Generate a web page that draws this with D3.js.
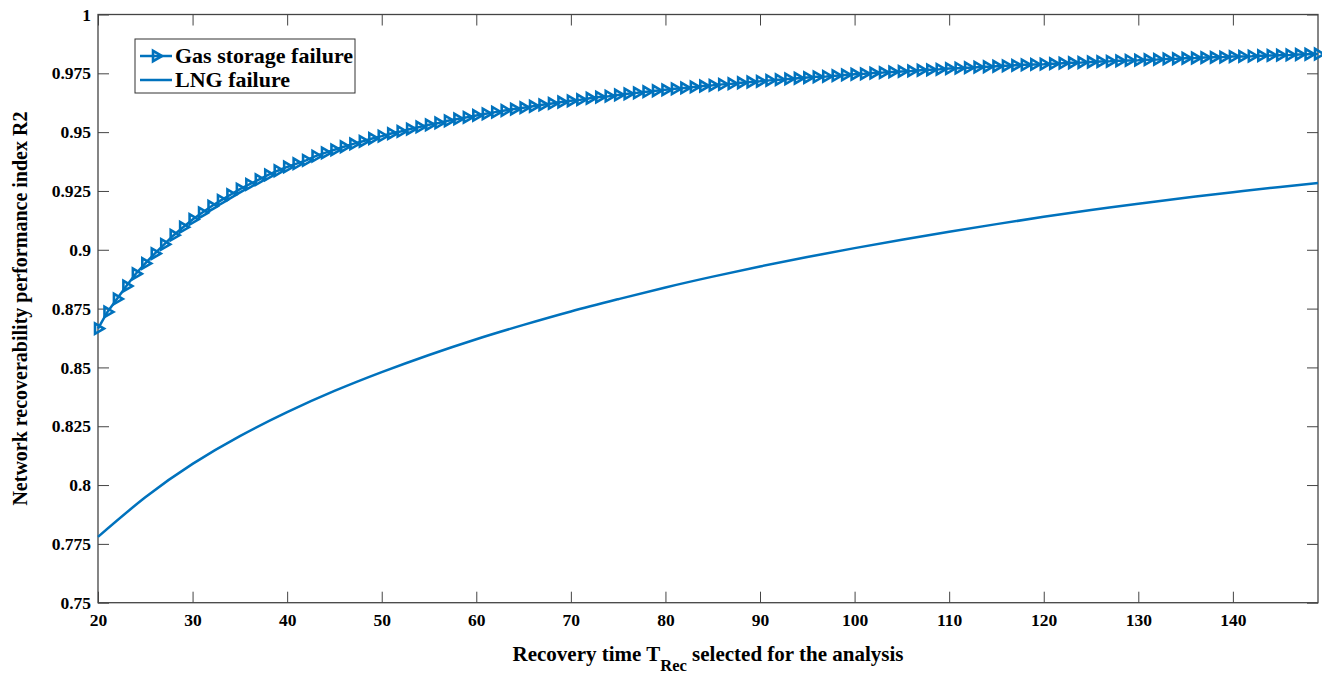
<!DOCTYPE html>
<html>
<head>
<meta charset="utf-8">
<script src="https://cdn.jsdelivr.net/npm/d3@7"></script>
<style>
  body { margin: 0; background: #fff; }
  svg text { font-family: "Times New Roman", "Liberation Serif", serif; font-weight: bold; fill: #000; }
</style>
</head>
<body>
<div id="chart"></div>
<script>
// Chart values
const recoveryTime = d3.range(20, 150); // 20 ... 149, one marker per step

const gasStorage = [
  0.8665, 0.8736, 0.8791, 0.8846, 0.8898, 0.8942, 0.8984, 0.9023, 0.9062, 0.9096,
  0.9129, 0.9157, 0.9185, 0.9210, 0.9234, 0.9258, 0.9278, 0.9298, 0.9318, 0.9336,
  0.9352, 0.9366, 0.9380, 0.9398, 0.9412, 0.9425, 0.9438, 0.9450, 0.9461, 0.9473,
  0.9483, 0.9494, 0.9503, 0.9513, 0.9522, 0.9531, 0.9539, 0.9548, 0.9556, 0.9563,
  0.9571, 0.9578, 0.9585, 0.9592, 0.9598, 0.9604, 0.9610, 0.9616, 0.9622, 0.9628,
  0.9633, 0.9638, 0.9644, 0.9649, 0.9653, 0.9658, 0.9663, 0.9667, 0.9672, 0.9676,
  0.9680, 0.9684, 0.9688, 0.9692, 0.9696, 0.9699, 0.9703, 0.9706, 0.9710, 0.9713,
  0.9716, 0.9720, 0.9723, 0.9726, 0.9729, 0.9732, 0.9735, 0.9737, 0.9740, 0.9743,
  0.9746, 0.9748, 0.9751, 0.9753, 0.9756, 0.9758, 0.9760, 0.9763, 0.9765, 0.9767,
  0.9770, 0.9772, 0.9774, 0.9776, 0.9778, 0.9780, 0.9782, 0.9784, 0.9786, 0.9788,
  0.9789, 0.9791, 0.9793, 0.9795, 0.9796, 0.9798, 0.9800, 0.9801, 0.9803, 0.9805,
  0.9806, 0.9808, 0.9809, 0.9811, 0.9812, 0.9814, 0.9815, 0.9817, 0.9818, 0.9819,
  0.9821, 0.9822, 0.9823, 0.9825, 0.9826, 0.9827, 0.9828, 0.9830, 0.9831, 0.9832
];

const lngTime = [20, 25, 30, 35, 40, 45, 50, 55, 60, 65, 70, 75, 80, 85, 90, 95,
  100, 105, 110, 115, 120, 125, 130, 135, 140, 145, 149];
const lngFailure = [0.778, 0.7948, 0.8090, 0.8208, 0.8310, 0.8400, 0.8480, 0.8553,
  0.8620, 0.8681, 0.8738, 0.8790, 0.8840, 0.8886, 0.8929, 0.8969, 0.9007, 0.9043,
  0.9077, 0.9109, 0.9140, 0.9169, 0.9196, 0.9221, 0.9245, 0.9267, 0.9284];

const xTicks = [20, 30, 40, 50, 60, 70, 80, 90, 100, 110, 120, 130, 140];
const yTicks = [0.75, 0.775, 0.8, 0.825, 0.85, 0.875, 0.9, 0.925, 0.95, 0.975, 1];
const yTickLabels = ["0.75", "0.775", "0.8", "0.825", "0.85", "0.875", "0.9",
  "0.925", "0.95", "0.975", "1"];
const seriesNames = ["Gas storage failure", "LNG failure"];

// Layout
const width = 1322, height = 676;
const margin = { top: 14.5, right: 4, bottom: 73.3, left: 98 };
const innerW = width - margin.left - margin.right;
const innerH = height - margin.top - margin.bottom;
const blue = "#0072BD";

const svg = d3.select("#chart")
  .append("svg")
  .attr("width", width)
  .attr("height", height);

const g = svg.append("g")
  .attr("transform", `translate(${margin.left},${margin.top})`);

const x = d3.scaleLinear().domain([20, 149]).range([0, innerW]);
const y = d3.scaleLinear().domain([0.75, 1]).range([innerH, 0]);

// Axes with inward ticks, MATLAB style
const tickLen = 11;
const styleAxis = sel => {
  sel.select(".domain").remove();
  sel.selectAll(".tick line").attr("stroke", "#444").attr("stroke-width", 1);
  sel.selectAll(".tick text").style("font-size", "17.5px");
};

g.append("g")
  .attr("transform", `translate(0,${innerH})`)
  .call(d3.axisBottom(x).tickValues(xTicks).tickSize(-tickLen).tickPadding(11))
  .call(styleAxis);

g.append("g")
  .call(d3.axisTop(x).tickValues(xTicks).tickSize(-tickLen).tickFormat(""))
  .call(styleAxis);

g.append("g")
  .call(d3.axisLeft(y).tickValues(yTicks).tickSize(-tickLen).tickPadding(7)
    .tickFormat((d, i) => yTickLabels[i]))
  .call(styleAxis);

g.append("g")
  .attr("transform", `translate(${innerW},0)`)
  .call(d3.axisRight(y).tickValues(yTicks).tickSize(-tickLen).tickFormat(""))
  .call(styleAxis);

// Frame
g.append("rect")
  .attr("width", innerW)
  .attr("height", innerH)
  .attr("fill", "none")
  .attr("stroke", "#444")
  .attr("stroke-width", 1.3);

// LNG failure line
g.append("path")
  .datum(lngTime.map((t, i) => [t, lngFailure[i]]))
  .attr("fill", "none")
  .attr("stroke", blue)
  .attr("stroke-width", 2.5)
  .attr("d", d3.line().x(d => x(d[0])).y(d => y(d[1])).curve(d3.curveNatural));

// Gas storage failure line + triangle markers
const gasData = recoveryTime.map((t, i) => [t, gasStorage[i]]);
g.append("path")
  .datum(gasData)
  .attr("fill", "none")
  .attr("stroke", blue)
  .attr("stroke-width", 2.5)
  .attr("d", d3.line().x(d => x(d[0])).y(d => y(d[1])));

const tri = d3.symbol().type(d3.symbolTriangle).size(46);
g.selectAll(".marker")
  .data(gasData)
  .enter()
  .append("path")
  .attr("class", "marker")
  .attr("d", tri)
  .attr("transform", d => `translate(${x(d[0])},${y(d[1])}) rotate(90)`)
  .attr("fill", "none")
  .attr("stroke", blue)
  .attr("stroke-width", 2.6);

// Legend
const legend = svg.append("g").attr("transform", "translate(135,39)");
legend.append("rect")
  .attr("width", 220)
  .attr("height", 54)
  .attr("fill", "#fff")
  .attr("stroke", "#333")
  .attr("stroke-width", 1);

seriesNames.forEach((name, i) => {
  const ly = 17 + i * 24;
  legend.append("line")
    .attr("x1", 5).attr("x2", 37)
    .attr("y1", ly).attr("y2", ly)
    .attr("stroke", blue).attr("stroke-width", 2.5);
  if (i === 0) {
    legend.append("path")
      .attr("d", tri)
      .attr("transform", `translate(21,${ly}) rotate(90)`)
      .attr("fill", "none")
      .attr("stroke", blue)
      .attr("stroke-width", 2.6);
  }
  legend.append("text")
    .attr("x", 40)
    .attr("y", ly + 7)
    .style("font-size", "22px")
    .text(name);
});

// Axis titles
const xt = svg.append("text")
  .attr("x", margin.left + innerW / 2)
  .attr("y", 661)
  .attr("text-anchor", "middle")
  .style("font-size", "21px");
xt.append("tspan").text("Recovery time T");
xt.append("tspan").attr("dy", 10).style("font-size", "16.5px").text("Rec");
xt.append("tspan").attr("dy", -10).text(" selected for the analysis");

svg.append("text")
  .attr("transform", `translate(27,${margin.top + innerH / 2}) rotate(-90)`)
  .attr("text-anchor", "middle")
  .style("font-size", "20px")
  .text("Network recoverability performance index R2");
</script>
</body>
</html>
